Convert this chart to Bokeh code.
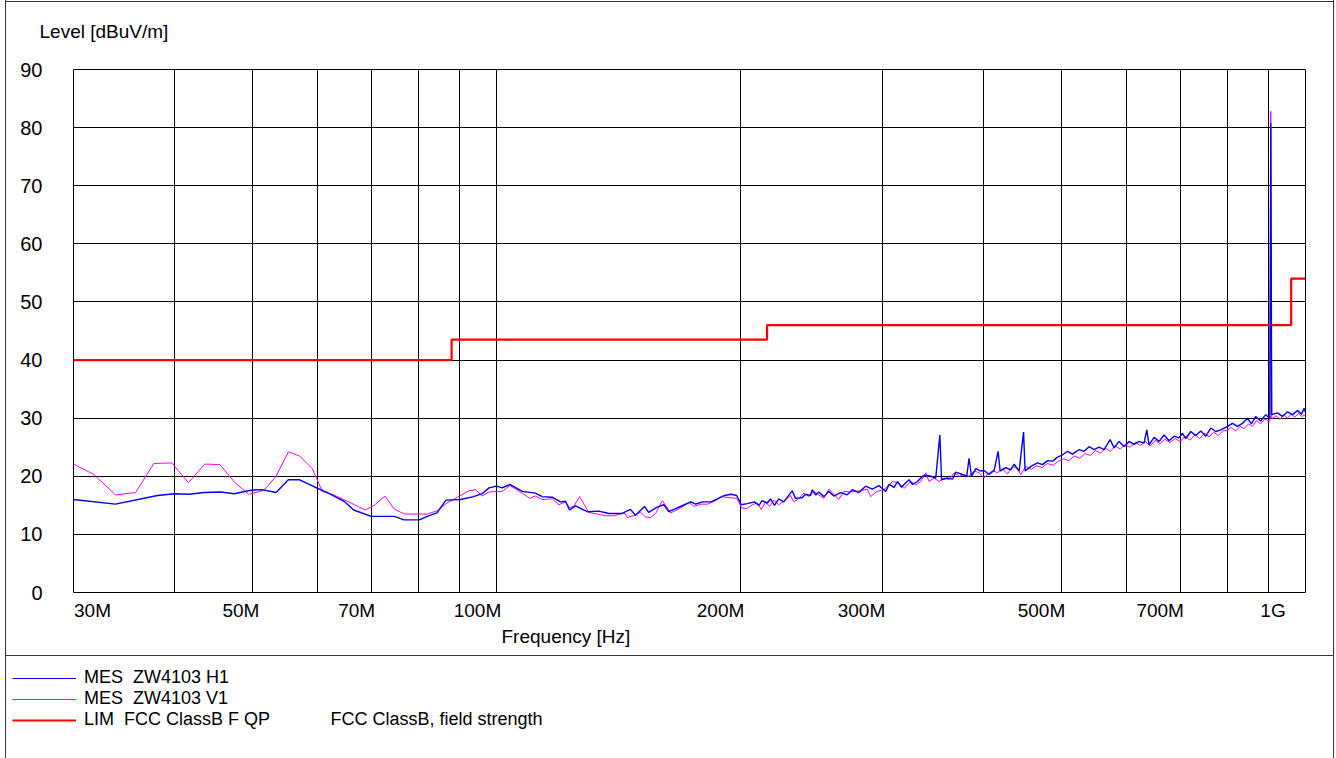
from bokeh.plotting import figure
from bokeh.models import FixedTicker, Legend, LegendItem, Label, Range1d, Title
from bokeh.embed import file_html
from bokeh.resources import INLINE
import math

FONT = "Liberation Sans"

# ---------------- data (frequency in MHz, level in dBuV/m) ----------------
h1_freq = [30, 33.8, 38.1, 40, 41.7, 43.5, 45.6, 47.4, 49.7, 51.3, 53.4, 55.3, 57.1, 59.5, 61.8,
           64.8, 66.6, 70.0, 74.7, 76.9, 80.3, 82.1, 84.4, 86.6, 90.3, 93.7, 96.0, 97.9, 100,
           101.6, 103.9, 107.6, 111.7, 113.9, 117.2, 120.0, 121.7, 123.1, 125.2, 129.5, 133.8,
           137.7, 143.0, 146.4, 148.5, 152.4, 154.2, 158.0, 161.0, 163.3, 168.8, 173.8, 176.3,
           179.7, 184.0, 187.6, 191.3, 195.0, 198.1, 200.7, 204.1, 208.4, 211.0, 213.0, 216.1,
           218.1, 220.6, 223.3, 226.5, 232.0, 234.2, 238.7, 241.0, 244.4, 245.6, 247.9, 250.3,
           253.9, 257.5, 261.2, 266.2, 271.3, 275.2, 280.5, 285.9, 291.4, 296.9, 302.8, 305.7,
           310.1, 313.1, 316.7, 320.6, 323.6, 326.7, 331.4, 336.2, 339.3, 344.2, 349.1, 353.2,
           354.9, 361.0, 366.2, 369.6, 376.7, 381.3, 383.8, 386.5, 391.3, 396.8, 400.6, 406.3,
           412.2, 416.9, 419.3, 426.1, 432.2, 436.3, 442.6, 448.2, 450.2, 457.6, 466.4, 473.0,
           479.8, 486.7, 493.7, 501.0, 507.9, 515.3, 525.0, 532.5, 540.1, 547.9, 555.7, 563.7,
           573.4, 580.0, 588.3, 596.7, 605.3, 613.9, 622.7, 631.6, 636.5, 640.7, 649.9, 659.2,
           668.6, 678.2, 687.9, 697.8, 704.5, 711.2, 721.4, 731.8, 742.3, 752.9, 763.7, 774.6,
           785.7, 800.9, 812.2, 823.9, 835.7, 847.6, 857.3, 867.9, 880.3, 893.0, 903.5, 905.9,
           908.3, 923.3, 936.4, 950.0, 963.6, 977.4, 988.6, 995.9, 1000]
h1_level = [16.0, 15.2, 16.7, 17.0, 16.9, 17.2, 17.3, 17.0, 17.6, 17.7, 17.2, 19.4, 19.4, 18.2, 17.2,
            15.7, 14.2, 13.1, 13.1, 12.5, 12.5, 13.1, 13.7, 15.9, 16.0, 16.5, 17.0, 18.0, 18.3,
            18.0, 18.6, 17.4, 17.1, 16.5, 16.4, 15.6, 15.7, 14.2, 14.9, 13.9, 14.0,
            13.6, 13.6, 14.3, 13.3, 14.8, 13.8, 14.7, 15.1, 13.9, 14.8, 15.6, 15.2,
            15.6, 15.6, 16.1, 16.7, 16.9, 16.7, 15.1, 15.3, 15.6, 15.0, 15.8, 15.4,
            16.1, 15.0, 16.1, 15.6, 17.5, 16.2, 16.3, 16.9, 16.7, 17.7, 16.8, 17.3,
            16.5, 17.4, 16.6, 17.2, 16.8, 17.7, 17.2, 18.3, 17.8, 18.4, 17.4, 18.6,
            18.1, 19.1, 18.1, 18.9, 19.4, 18.6, 19.1, 20.0, 20.2, 20.0, 19.7, 27.1,
            19.4, 19.7, 19.5, 20.7, 20.3, 20.0, 23.1, 20.0, 21.3, 20.9, 21.0, 20.3,
            21.0, 24.3, 20.9, 21.5, 21.1, 22.1, 20.9, 27.6, 20.9, 21.7, 22.3, 22.0,
            22.7, 22.6, 23.3, 23.7, 24.3, 23.8, 24.6, 24.3, 25.1, 24.6, 25.0, 24.6,
            26.3, 24.9, 26.0, 25.1, 26.0, 25.5, 26.0, 25.7, 28.0, 25.4, 26.7, 26.0,
            27.1, 26.1, 26.9, 26.6, 27.4, 26.5, 27.7, 27.0, 27.8, 26.9, 28.3, 27.7,
            28.0, 28.6, 29.1, 28.6, 29.1, 30.0, 29.0, 30.3, 29.5, 30.6, 30.0, 80.8,
            30.6, 30.9, 30.3, 31.1, 30.6, 31.3, 30.7, 31.7, 31.0]

v1_freq = [30, 31.8, 33.8, 35.8, 37.7, 39.7, 41.6, 43.6, 45.5, 47.5, 49.4, 51.6, 53.4, 55.3, 57.1,
           59.2, 60.9, 62.9, 66.1, 68.8, 70.6, 72.8, 74.7, 76.9, 82.1, 84.6, 86.6, 89.5, 92.4,
           94.2, 96.0, 97.9, 101.6, 103.9, 107.6, 109.9, 111.7, 113.9, 117.2, 119.4, 121.7,
           123.1, 124.7, 126.7, 130.0, 136.3, 139.6, 143.8, 145.2, 147.5, 150.7, 152.9, 155.0,
           157.3, 160.3, 164.2, 168.8, 173.0, 175.5, 178.7, 182.3, 186.0, 189.6, 194.4, 198.1,
           201.1, 204.1, 207.1, 210.0, 212.4, 215.1, 217.5, 220.2, 223.3, 227.6, 230.9, 233.1,
           236.4, 239.8, 243.3, 246.7, 250.3, 253.9, 257.5, 261.2, 264.9, 268.7, 273.9, 281.8,
           287.2, 290.0, 295.5, 301.2, 308.7, 314.5, 319.0, 325.1, 329.8, 334.5, 339.3, 342.5,
           347.5, 352.4, 357.5, 362.6, 367.8, 373.1, 378.4, 383.8, 389.4, 395.0, 400.6, 403.7,
           410.3, 416.2, 422.1, 428.1, 434.3, 440.6, 444.7, 451.1, 458.0, 465.0, 472.5, 480.0,
           487.5, 495.0, 502.5, 510.0, 518.0, 526.0, 534.0, 542.0, 550.0, 558.0, 566.0, 574.0,
           582.0, 590.0, 598.0, 607.0, 616.0, 625.0, 634.0, 643.0, 652.0, 661.0, 670.0, 680.0,
           690.0, 700.0, 710.0, 720.0, 730.0, 740.0, 750.0, 760.0, 770.0, 780.0, 790.0, 800.0,
           810.0, 820.0, 830.0, 840.0, 850.0, 860.0, 870.0, 880.0, 890.0, 903.5, 905.9, 908.3,
           920.0, 930.0, 940.0, 950.0, 960.0, 970.0, 980.0, 990.0, 1000.0]
v1_level = [22.1, 20.3, 16.8, 17.2, 22.2, 22.3, 18.9, 22.1, 22.0, 18.9, 16.9, 17.6, 20.0, 24.2, 23.5,
            21.3, 17.4, 16.8, 15.4, 14.2, 15.0, 16.6, 14.4, 13.5, 13.5, 14.1, 15.3, 16.4, 17.5,
            17.7, 16.6, 17.3, 17.4, 18.4, 17.1, 16.2, 16.6, 16.0, 16.1, 15.1, 15.6,
            14.6, 14.9, 16.5, 13.8, 13.2, 13.2, 13.7, 12.9, 13.2, 13.8, 13.0, 12.9,
            13.6, 15.8, 13.7, 14.5, 15.5, 14.8, 15.2, 15.2, 15.7, 16.5, 16.3, 16.2,
            14.5, 14.5, 15.1, 15.4, 14.3, 15.6, 14.8, 15.9, 15.1, 15.9, 16.7, 15.6,
            16.2, 17.1, 16.5, 17.4, 16.8, 16.2, 17.8, 16.9, 16.0, 17.4, 17.3, 17.5,
            17.8, 16.5, 17.4, 17.7, 19.1, 18.8, 17.9, 19.1, 18.5, 19.1, 20.6, 19.1,
            19.7, 19.1, 19.7, 19.4, 20.6, 20.0, 20.3, 20.0, 20.9, 20.6, 19.7, 20.2,
            21.0, 20.6, 21.3, 20.4, 21.7, 21.3, 20.3, 21.7, 21.2, 21.8, 21.5, 22.2,
            21.9, 22.6, 23.0, 22.7, 23.5, 23.1, 23.9, 23.6, 24.4, 24.0, 24.8, 24.3,
            25.2, 24.7, 25.4, 25.0, 25.8, 25.3, 26.0, 25.2, 26.2, 25.6, 26.4, 25.8,
            26.5, 26.0, 26.9, 26.2, 27.2, 26.5, 27.4, 26.8, 27.6, 27.0, 27.8, 27.9,
            28.4, 27.8, 28.6, 28.2, 29.0, 28.6, 29.6, 29.0, 29.8, 29.5, 82.8, 29.9,
            30.4, 29.8, 30.6, 30.0, 30.7, 30.2, 30.8, 30.3, 30.6]

lim_freq = [30, 88, 216, 960, 1000]
lim_level = [40, 43.5, 46, 54, 54]

x_grid_values = [40, 50, 60, 70, 80, 90, 100, 200, 300, 400, 500, 600, 700, 800, 900]
x_tick_values = [30, 50, 70, 100, 200, 300, 500, 700, 1000]
x_tick_labels = ["30M", "50M", "70M", "100M", "200M", "300M", "500M", "700M", "1G"]
y_tick_values = [0, 10, 20, 30, 40, 50, 60, 70, 80, 90]

NB = "\u00a0"
series_names = ["MES" + NB * 2 + "ZW4103 H1", "MES" + NB * 2 + "ZW4103 V1",
                "LIM" + NB * 2 + "FCC ClassB F QP"]
limit_note = "FCC ClassB, field strength"

# ---------------- layout ----------------
W = 1336
H1, H2 = 655, 103
BL, BR, BT, BB = 73, 31, 69, 63
FRAME_W = W - BL - BR
PX_PER_DEC = FRAME_W / math.log10(1000 / 30)
LINE = "#333333"

def frame_css(top_y):
    return {
        "background-image": ", ".join(["linear-gradient(%s,%s)" % (LINE, LINE)] * 3),
        "background-size": "1px 100%, 1px 100%, 1328px 1px",
        "background-position": "5px 0, 1333px 0, 5px %dpx" % top_y,
        "background-repeat": "no-repeat",
    }

p = figure(width=W, height=H1, x_axis_type="log",
           x_range=Range1d(30, 1000), y_range=Range1d(0, 90),
           output_backend="svg", toolbar_location=None,
           min_border_left=BL, min_border_right=BR, min_border_top=BT, min_border_bottom=BB)
p.border_fill_color = None
p.background_fill_color = "white"
p.outline_line_color = "black"
p.outline_line_width = 1
p.styles = frame_css(1)

# titles (a blank spacer title lifts the axis title to the reference height)
p.title.text = "Level [dBuV/m]"
p.title.align = "left"
p.title.offset = -34
p.title.standoff = 10
p.title.text_font = FONT
p.title.text_font_size = "19px"
p.title.text_font_style = "normal"
p.title.text_color = "black"
p.add_layout(Title(text=" ", standoff=0, text_font=FONT, text_font_size="19px"), "above")

# grid
p.xgrid.ticker = FixedTicker(ticks=x_grid_values)
p.ygrid.ticker = FixedTicker(ticks=[10, 20, 30, 40, 50, 60, 70, 80])
for g in (p.xgrid, p.ygrid):
    g.grid_line_color = "black"
    g.grid_line_alpha = 1
    g.grid_line_width = 1

# x axis: label centres sit a little to the left of their grid line (as in the reference)
label_shift_px = {30: 19, 50: -12, 70: -14.5, 100: -19, 200: -19.5, 300: -21, 500: -20.5,
                  700: -20, 1000: -32.5}
anchors = [round(f * 10 ** (label_shift_px[f] / PX_PER_DEC), 4) for f in x_tick_values]
xa = p.xaxis[0]
xa.ticker = FixedTicker(ticks=anchors)
xa.major_label_overrides = {a: t for a, t in zip(anchors, x_tick_labels)}
xa.major_label_standoff = 7
ya = p.yaxis[0]
ya.ticker = FixedTicker(ticks=y_tick_values)
ya.major_label_standoff = 31
for ax in (xa, ya):
    ax.axis_line_color = None
    ax.major_tick_line_color = None
    ax.minor_tick_line_color = None
    ax.major_tick_out = 0
    ax.major_tick_in = 0
    ax.minor_tick_out = 0
    ax.major_label_text_font = FONT
    ax.major_label_text_color = "black"
xa.major_label_text_font_size = "19px"
ya.major_label_text_font_size = "20px"

p.add_layout(Title(text="Frequency [Hz]", align="left", offset=428, standoff=0,
                   text_font=FONT, text_font_size="19px", text_font_style="normal",
                   text_color="black"), "below")

# series
colors = ["#0000ff", "#ff00ff", "#ff0000"]
p.step(lim_freq, lim_level, mode="after", line_color=colors[2], line_width=2.2)
p.line(v1_freq, v1_level, line_color=colors[1], line_width=1)
p.line(h1_freq, h1_level, line_color=colors[0], line_width=1.4)

# ---------------- legend panel (separate root, so its frame is not aligned) ----------------
q = figure(width=W, height=H2, x_range=Range1d(0, 1), y_range=Range1d(0, 1),
           output_backend="svg", toolbar_location=None,
           x_axis_location=None, y_axis_location=None,
           min_border=0, min_border_left=0, min_border_right=0, min_border_top=0, min_border_bottom=0)
q.border_fill_color = None
q.background_fill_color = None
q.outline_line_color = None
q.xgrid.visible = False
q.ygrid.visible = False
q.styles = frame_css(0)

# legend-key renderers (kept outside the panel's range, only their keys are shown)
keys = [q.line(x=[2, 3], y=[2, 2], line_color=c, line_width=w)
        for c, w in zip(colors, [1, 1, 2])]
legend = Legend(items=[LegendItem(label=n, renderers=[r]) for n, r in zip(series_names, keys)],
                location=(12, 28), orientation="vertical")
legend.glyph_width = 64
legend.glyph_height = 18
legend.label_height = 18
legend.spacing = 0
legend.padding = 0
legend.margin = 0
legend.label_standoff = 8
legend.border_line_alpha = 0
legend.background_fill_alpha = 0
legend.label_text_font = FONT
legend.label_text_font_size = "18px"
legend.label_text_color = "black"
legend.label_text_baseline = "middle"
q.add_layout(legend)

q.add_layout(Label(x=330, y=39.5, x_units="screen", y_units="screen",
                   text=limit_note, text_font=FONT, text_font_size="18px",
                   text_baseline="middle", text_color="black"))

open("out.html", "w").write(file_html([p, q], INLINE))
